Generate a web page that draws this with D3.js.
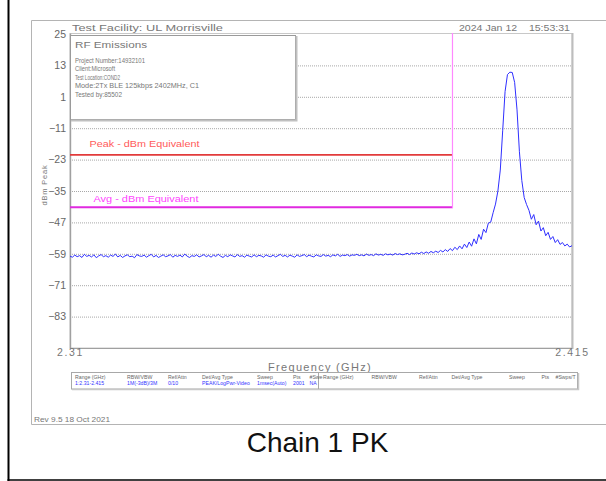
<!DOCTYPE html>
<html>
<head>
<meta charset="utf-8">
<script src="https://cdn.jsdelivr.net/npm/d3@7"></script>
<style>
  html, body { margin: 0; padding: 0; background: #fff; }
  svg { display: block; }
  text { font-family: "Liberation Sans", "DejaVu Sans", sans-serif; }
</style>
</head>
<body>
<svg id="chart" width="606" height="481"></svg>
<script>
// ---------------- data ----------------
const yTickValues = [25, 13, 1, -11, -23, -35, -47, -59, -71, -83];
const xTickValues = [2.31, 2.415];
const xTickLabels = ["2.31", "2.415"];
const freqStart = 2.31;
const freqStep = 0.0005;           // GHz between trace samples
const limitPeak = -21.2;           // dBm equivalent
const limitAvg = -41.2;
const bandEdge = 2.39;             // GHz
const traceDbm = [
  -59.9,-60.3,-59.5,-60.1,-59.7,-60.4,-59.2,-60.0,-59.6,-60.2,
  -59.4,-60.5,-59.8,-59.3,-60.1,-59.7,-60.3,-59.5,-60.0,-59.1,
  -60.2,-59.6,-60.4,-59.8,-59.4,-60.1,-59.9,-60.5,-59.3,-59.8,
  -60.0,-59.5,-60.3,-59.7,-59.2,-60.2,-59.6,-60.4,-59.9,-59.4,
  -60.1,-59.8,-59.3,-60.3,-59.6,-60.0,-59.5,-60.2,-59.1,-59.9,
  -60.4,-59.7,-60.0,-59.4,-60.2,-59.8,-59.3,-60.1,-59.6,-60.3,
  -59.5,-60.0,-59.2,-59.9,-60.4,-59.6,-60.1,-59.4,-59.8,-60.2,
  -59.3,-60.0,-59.7,-60.3,-59.5,-59.9,-60.2,-59.4,-60.1,-59.6,
  -59.8,-60.3,-59.4,-59.9,-60.1,-59.5,-60.2,-59.7,-59.2,-60.0,
  -59.6,-60.2,-59.5,-59.9,-60.3,-59.4,-60.0,-59.7,-59.3,-60.1,
  -59.5,-59.9,-60.2,-59.4,-59.8,-60.0,-59.3,-59.9,-59.6,-60.1,
  -59.4,-59.8,-59.2,-60.0,-59.5,-59.7,-59.3,-59.9,-59.4,-59.6,
  -59.2,-59.7,-59.4,-59.8,-59.1,-59.6,-59.3,-59.7,-59.0,-59.5,
  -59.2,-59.6,-59.0,-59.4,-59.1,-59.5,-58.9,-59.3,-59.0,-59.4,
  -59.2,-58.8,-59.3,-58.7,-59.1,-58.6,-59.0,-58.4,-58.9,-58.3,
  -58.8,-58.1,-58.6,-58.0,-58.5,-57.7,-58.3,-57.4,-58.1,-57.0,
  -57.8,-56.5,-57.4,-56.0,-57.1,-55.3,-56.6,-54.5,-56.1,-53.3,
  -55.2,-51.6,-53.5,-49.6,-50.9,-47.3,-46.9,-43.3,-40.0,-35.0,
  -27.0,-12.0,3.0,9.5,10.4,10.3,6.5,-4.0,-20.0,-31.0,
  -37.5,-40.2,-42.4,-45.8,-44.0,-47.9,-46.5,-50.3,-49.0,-52.1,
  -50.8,-53.5,-52.4,-54.7,-53.6,-55.4,-54.7,-56.0,-55.3,-56.4,
  -55.9
];
const infoLines = ["Project Number:14932101", "Client:Microsoft", "Test Location:COND2",
                   "Mode:2Tx BLE 125kbps 2402MHz, C1", "Tested by:85502"];
const tableHeaders = ["Range (GHz)", "RBW/VBW", "Ref/Attn", "Det/Avg Type", "Sweep", "Pts", "#Swe"];
const tableRow = ["1:2.31-2.415", "1M(-3dB)/3M", "0/10", "PEAK/LogPwr-Video", "1msec(Auto)", "2001", "NA"];
const tableHeaders2 = ["Range (GHz)", "RBW/VBW", "Ref/Attn", "Det/Avg Type", "Sweep", "Pts", "#Swps/T"];

// ---------------- layout ----------------
const svg = d3.select("#chart");
const L = 70, R = 572, T = 34, B = 348;
const x = d3.scaleLinear().domain([2.31, 2.415]).range([L, R]);
const y = d3.scaleLinear().domain([-95, 25]).range([B, T]);
const grey = "#777";

// outer black frame
svg.append("line").attr("x1", 8.5).attr("x2", 8.5).attr("y1", 0).attr("y2", 481)
  .attr("stroke", "#000").attr("stroke-width", 2);
svg.append("line").attr("x1", 7.5).attr("x2", 606).attr("y1", 480).attr("y2", 480)
  .attr("stroke", "#000").attr("stroke-width", 1.6);

// inner screenshot frame
svg.append("path").attr("d", "M606,20.5 H31.5 V424.5 H606")
  .attr("fill", "none").attr("stroke", "#b4b4b4").attr("stroke-width", 1);

// header texts
svg.append("text").attr("x", 72).attr("y", 31).attr("font-size", 9.5)
  .attr("fill", grey).attr("textLength", 151).attr("lengthAdjust", "spacingAndGlyphs")
  .text("Test Facility:  UL Morrisville");
svg.append("text").attr("x", 459).attr("y", 31).attr("font-size", 9.5)
  .attr("fill", grey).attr("textLength", 111).attr("lengthAdjust", "spacingAndGlyphs")
  .attr("xml:space", "preserve")
  .text("2024 Jan 12    15:53:31");

// grid lines
const grid = svg.append("g").attr("transform", `translate(${L},0)`)
  .call(d3.axisLeft(y).tickValues(yTickValues.slice(1)).tickSize(-(R - L)).tickFormat(""));
grid.select(".domain").remove();
grid.selectAll("line").attr("stroke", "#a8a8a8").attr("stroke-dasharray", "1,1").attr("stroke-width", 1);

// plot frame
svg.append("rect").attr("x", L).attr("y", T - 0.5).attr("width", R - L).attr("height", B - T + 0.5)
  .attr("fill", "none").attr("stroke", "#c8c8c8").attr("stroke-width", 1);
svg.append("line").attr("x1", R + 0.5).attr("x2", R + 0.5).attr("y1", T - 1).attr("y2", B + 1)
  .attr("stroke", "#bdbdbd").attr("stroke-width", 2);
svg.append("line").attr("x1", L).attr("x2", R).attr("y1", B + 0.5).attr("y2", B + 0.5)
  .attr("stroke", "#a0a0a0").attr("stroke-width", 1.2);
svg.append("line").attr("x1", L + 0.5).attr("x2", L + 0.5).attr("y1", T - 0.5).attr("y2", B + 1)
  .attr("stroke", "#a0a0a0").attr("stroke-width", 1.4);

// y axis labels
const yAx = svg.append("g").attr("transform", `translate(${L},0)`)
  .call(d3.axisLeft(y).tickValues(yTickValues).tickSize(0).tickPadding(4)
    .tickFormat(d => d < 0 ? "\u2212" + Math.abs(d) : String(d)));
yAx.select(".domain").remove();
yAx.selectAll("text").attr("font-size", 10.5).attr("fill", "#666")
  .attr("font-family", "Liberation Sans, sans-serif");

// y title
svg.append("text").attr("transform", "translate(46.5,185) rotate(-90)")
  .attr("text-anchor", "middle").attr("font-size", 7.5).attr("fill", grey)
  .attr("letter-spacing", 0.8).text("dBm Peak");

// x axis end labels
const xAx = svg.append("g").attr("transform", `translate(0,${B})`)
  .call(d3.axisBottom(x).tickValues(xTickValues).tickSize(0).tickPadding(1)
    .tickFormat((d, i) => xTickLabels[i]));
xAx.select(".domain").remove();
xAx.selectAll("text").attr("font-size", 10.5).attr("fill", grey).attr("letter-spacing", 1.6)
  .attr("font-family", "Liberation Sans, sans-serif");

svg.append("text").attr("x", 320).attr("y", 371).attr("text-anchor", "middle")
  .attr("font-size", 11).attr("fill", grey).attr("letter-spacing", 1.3)
  .text("Frequency (GHz)");

// info box
svg.append("rect").attr("x", 70.5).attr("y", 35.5).attr("width", 225).attr("height", 84)
  .attr("fill", "#fff").attr("stroke", "#9a9a9a").attr("stroke-width", 1);
svg.append("path").attr("d", "M296.5,36 V120.5 H71").attr("fill", "none")
  .attr("stroke", "#c0c0c0").attr("stroke-width", 2);
svg.append("text").attr("x", 75).attr("y", 47.5).attr("font-size", 9.5).attr("fill", grey)
  .attr("textLength", 72).attr("lengthAdjust", "spacingAndGlyphs").text("RF Emissions");
const infoWidths = [70, 40, 45, 124, 47];
svg.append("g").selectAll("text").data(infoLines).join("text")
  .attr("x", 75).attr("y", (d, i) => 62.5 + i * 8.6).attr("font-size", 7.2).attr("fill", grey)
  .attr("textLength", (d, i) => infoWidths[i]).attr("lengthAdjust", "spacingAndGlyphs")
  .text(d => d);

// limit lines
svg.append("line").attr("x1", L).attr("x2", x(bandEdge)).attr("y1", y(limitPeak)).attr("y2", y(limitPeak))
  .attr("stroke", "#e23b3b").attr("stroke-width", 1.8);
svg.append("line").attr("x1", L).attr("x2", x(bandEdge)).attr("y1", y(limitAvg)).attr("y2", y(limitAvg))
  .attr("stroke", "#e02ae0").attr("stroke-width", 2);
svg.append("line").attr("x1", x(bandEdge)).attr("x2", x(bandEdge)).attr("y1", T - 1).attr("y2", y(limitAvg) + 1)
  .attr("stroke", "#ff88ff").attr("stroke-width", 1.2);
svg.append("text").attr("x", 89.5).attr("y", 146.5).attr("font-size", 9).attr("fill", "#ff5a5a")
  .attr("textLength", 110).attr("lengthAdjust", "spacingAndGlyphs").text("Peak - dBm Equivalent");
svg.append("text").attr("x", 93.5).attr("y", 201.5).attr("font-size", 9).attr("fill", "#ff44ff")
  .attr("textLength", 105).attr("lengthAdjust", "spacingAndGlyphs").text("Avg - dBm Equivalent");

// trace
const line = d3.line()
  .x((d, i) => x(freqStart + i * freqStep))
  .y(d => y(d))
  .curve(d3.curveLinear);
svg.append("path").datum(traceDbm).attr("d", line)
  .attr("fill", "none").attr("stroke", "#2f2fff").attr("stroke-width", 1);

// bottom table
svg.append("rect").attr("x", 71.5).attr("y", 372.5).attr("width", 506).attr("height", 16.5)
  .attr("fill", "#fff").attr("stroke", "#a8a8a8").attr("stroke-width", 1);
svg.append("path").attr("d", "M578.5,373 V389.5 H72").attr("fill", "none")
  .attr("stroke", "#c8c8c8").attr("stroke-width", 1.5);
svg.append("line").attr("x1", 318.5).attr("x2", 318.5).attr("y1", 373).attr("y2", 389)
  .attr("stroke", "#a8a8a8");
const colX = [75, 127, 168, 202, 257, 293, 309.5];
const colX2 = [323, 371.5, 419, 451.5, 509, 541.5, 555.5];
svg.append("g").selectAll("text").data(tableHeaders).join("text")
  .attr("x", (d, i) => colX[i]).attr("y", 378.5).attr("font-size", 5.2).attr("fill", "#666")
  .text(d => d);
svg.append("g").selectAll("text").data(tableRow).join("text")
  .attr("x", (d, i) => colX[i]).attr("y", 384.5).attr("font-size", 5.2).attr("fill", "#3535ff")
  .text(d => d);
svg.append("g").selectAll("text").data(tableHeaders2).join("text")
  .attr("x", (d, i) => colX2[i]).attr("y", 378.5).attr("font-size", 5.2).attr("fill", "#666")
  .text(d => d);

// footer
svg.append("text").attr("x", 34).attr("y", 422).attr("font-size", 7).attr("fill", grey)
  .attr("textLength", 76).attr("lengthAdjust", "spacingAndGlyphs").text("Rev 9.5 18 Oct 2021");
svg.append("text").attr("x", 317.5).attr("y", 451.5).attr("text-anchor", "middle")
  .attr("font-size", 28).attr("fill", "#111").attr("font-family", "Liberation Sans, Arial, sans-serif")
  .text("Chain 1 PK");
</script>
</body>
</html>
